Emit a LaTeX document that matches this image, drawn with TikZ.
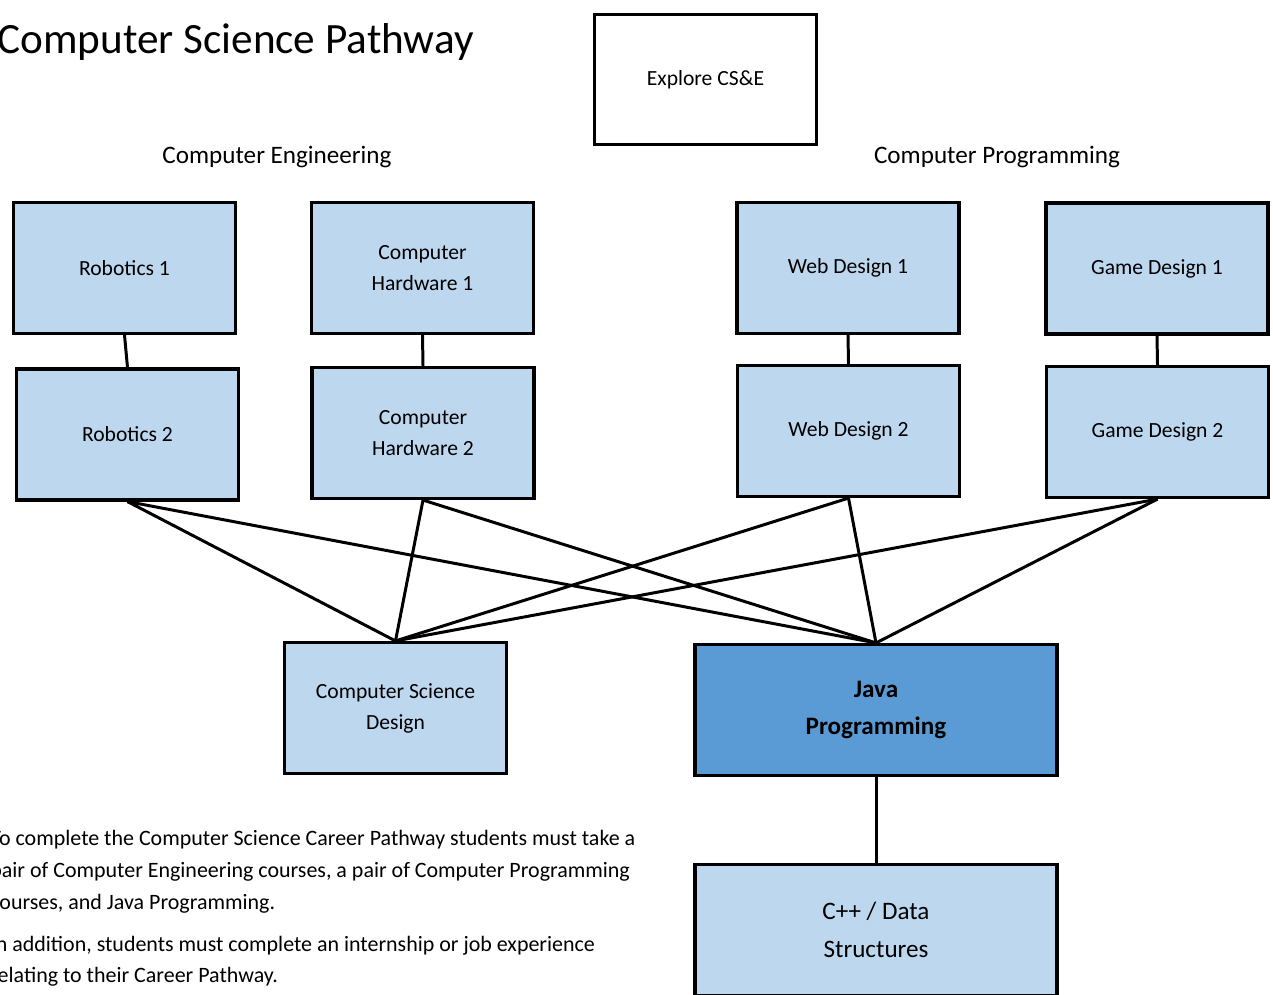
\documentclass[tikz,border=0pt]{standalone}
\usepackage{fontspec}
\setmainfont{Carlito}
\definecolor{courseblue}{HTML}{BDD7EE}
\definecolor{javablue}{HTML}{5B9BD5}
\tikzset{
    course/.style={draw, line width=1.8pt, fill=courseblue, minimum width=4.44cm, minimum height=2.62cm, align=center, inner sep=0, font={\fontsize{12.3}{17.6}\selectfont}},
    wide/.style={course, minimum width=7.24cm, font={\fontsize{14.3}{21.5}\selectfont}},
    link/.style={line width=1.7pt},
    heading/.style={font={\fontsize{14.3}{17}\selectfont}}
}
\begin{document}
\begin{tikzpicture}[x=0.02cm,y=-0.02cm]
\clip (0,0) rectangle (1273,994);
%title and headings
\node[anchor=west, inner sep=0, font={\fontsize{24.6}{29}\selectfont}] (title) at (-3,42){Computer Science Pathway};
\node[course, fill=white, minimum height=2.6cm] (explore) at (705.5,79.5){Explore CS\&E};
\node[heading] (eng) at (277,157){Computer Engineering};
\node[heading] (prog) at (997,157){Computer Programming};
%first courses
\node[course] (rob1) at (124.5,268){Robotics 1};
\node[course] (hw1) at (422.5,268){Computer\\Hardware 1};
\node[course] (web1) at (848,268){Web Design 1};
\node[course] (game1) at (1157,268.5){Game Design 1};
%second courses
\node[course] (rob2) at (127.5,434.5){Robotics 2};
\node[course] (hw2) at (423,433){Computer\\Hardware 2};
\node[course] (web2) at (848.5,431){Web Design 2};
\node[course] (game2) at (1157.5,432){Game Design 2};
%capstones
\node[course] (csd) at (395.5,708){Computer Science\\Design};
\node[wide, fill=javablue, font={\fontsize{14.3}{21.5}\selectfont\bfseries}] (java) at (876,710){Java\\Programming};
\node[wide] (cpp) at (876,930){C++ / Data\\Structures};
%links
\foreach \a/\b in {rob1/rob2, hw1/hw2, web1/web2, game1/game2, java/cpp}{
    \draw[link] (\a.south) -- (\b.north);
}
\foreach \a in {rob2, hw2, web2, game2}{
    \draw[link] (\a.south) -- (csd.north);
    \draw[link] (\a.south) -- (java.north);
}
%notes
\node[anchor=north west, inner sep=0, align=left, font={\fontsize{12.5}{18.1}\selectfont}] (notes) at (-10,830){%
To complete the Computer Science Career Pathway students must take a\\
pair of Computer Engineering courses, a pair of Computer Programming\\
courses, and Java Programming.\\[5.7pt]
In addition, students must complete an internship or job experience\\
relating to their Career Pathway.};
\end{tikzpicture}
\end{document}
